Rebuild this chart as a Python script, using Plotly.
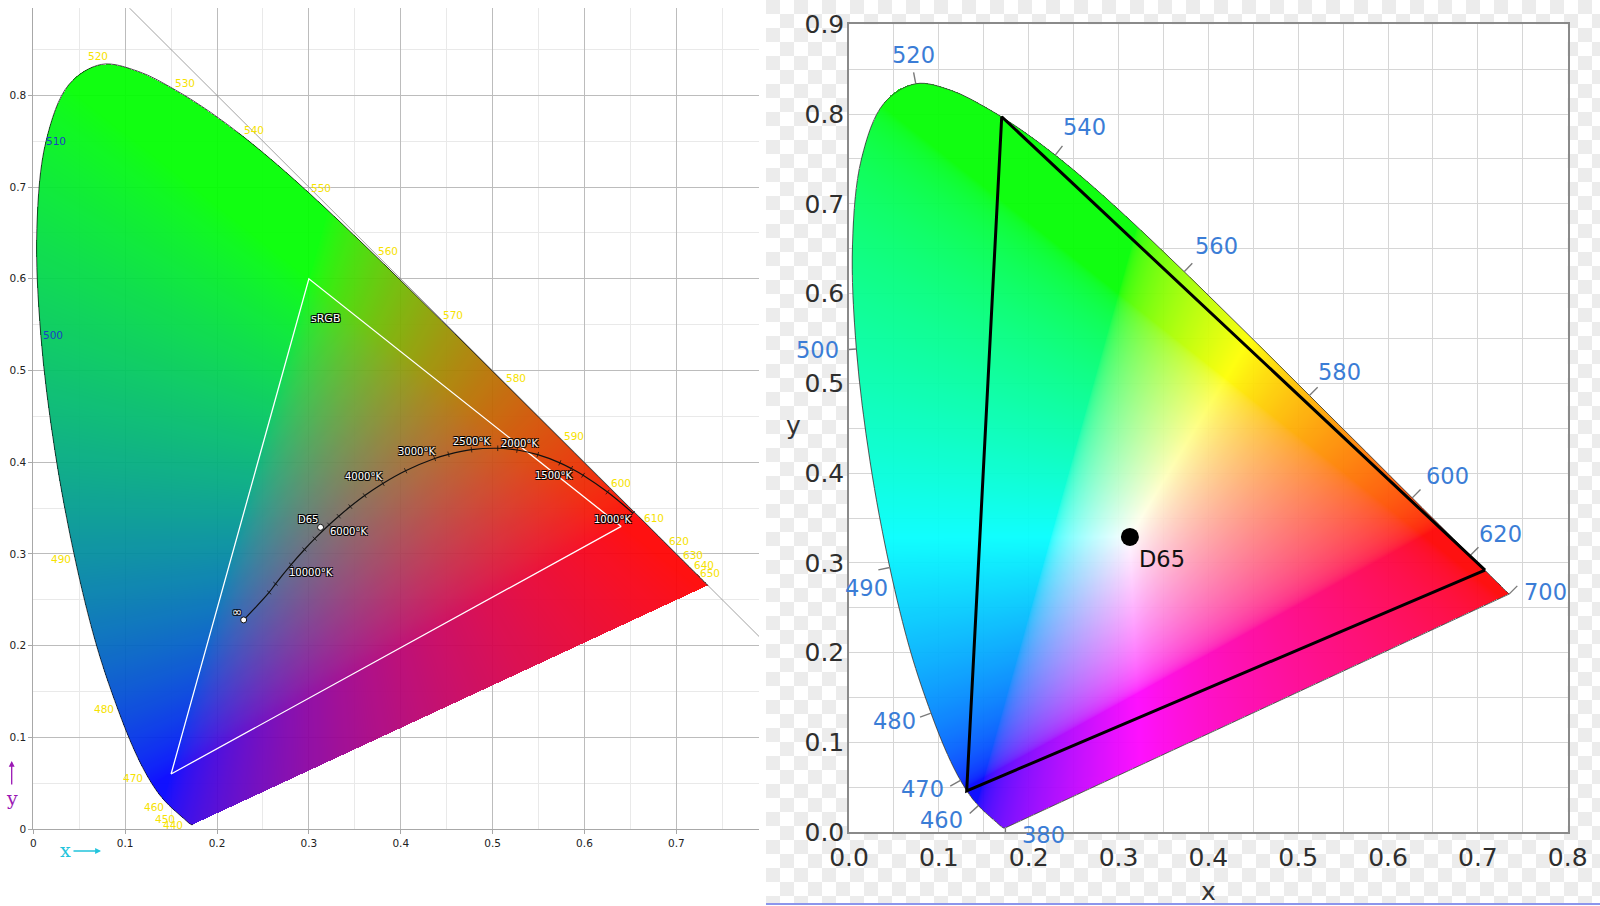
import base64
import struct
import zlib

import numpy as np
import plotly.graph_objects as go

# CIE 1931 2 deg spectral locus, 380..700 nm every 5 nm
wavelengths = list(range(380, 705, 5))
locus_x = [0.1741, 0.1740, 0.1738, 0.1736, 0.1733, 0.1730, 0.1726, 0.1721, 0.1714, 0.1703,
           0.1689, 0.1669, 0.1644, 0.1611, 0.1566, 0.1510, 0.1440, 0.1355, 0.1241, 0.1096,
           0.0913, 0.0687, 0.0454, 0.0235, 0.0082, 0.0039, 0.0139, 0.0389, 0.0743, 0.1142,
           0.1547, 0.1929, 0.2296, 0.2658, 0.3016, 0.3373, 0.3731, 0.4087, 0.4441, 0.4788,
           0.5125, 0.5448, 0.5752, 0.6029, 0.6270, 0.6482, 0.6658, 0.6801, 0.6915, 0.7006,
           0.7079, 0.7140, 0.7190, 0.7230, 0.7260, 0.7283, 0.7300, 0.7311, 0.7320, 0.7327,
           0.7334, 0.7340, 0.7344, 0.7346, 0.7347]
locus_y = [0.0050, 0.0050, 0.0049, 0.0049, 0.0048, 0.0048, 0.0048, 0.0048, 0.0051, 0.0058,
           0.0069, 0.0086, 0.0109, 0.0138, 0.0177, 0.0227, 0.0297, 0.0399, 0.0578, 0.0868,
           0.1327, 0.2007, 0.2950, 0.4127, 0.5384, 0.6548, 0.7502, 0.8120, 0.8338, 0.8262,
           0.8059, 0.7816, 0.7543, 0.7243, 0.6923, 0.6589, 0.6245, 0.5896, 0.5547, 0.5202,
           0.4866, 0.4544, 0.4242, 0.3965, 0.3725, 0.3514, 0.3340, 0.3197, 0.3083, 0.2993,
           0.2920, 0.2859, 0.2809, 0.2770, 0.2740, 0.2717, 0.2700, 0.2689, 0.2680, 0.2673,
           0.2666, 0.2660, 0.2656, 0.2654, 0.2653]

left_labels = [440, 450, 460, 470, 480, 490, 500, 510, 520, 530, 540, 550, 560,
               570, 580, 590, 600, 610, 620, 630, 640, 650]
right_labels = [380, 460, 470, 480, 490, 500, 520, 540, 560, 580, 600, 620, 700]

srgb_x = [0.64, 0.30, 0.15]
srgb_y = [0.33, 0.60, 0.06]
rec2020_x = [0.708, 0.170, 0.131]
rec2020_y = [0.292, 0.797, 0.046]

d65_x = 0.3127
d65_y = 0.3290

# Planckian locus (last point is infinity)
planck_t = [1000, 1200, 1400, 1500, 1600, 1800, 2000, 2200, 2500, 2800, 3000, 3500, 4000,
            4500, 5000, 5500, 6000, 7000, 8000, 10000, 15000, 20000, None]
planck_x = [0.6528, 0.6251, 0.5985, 0.5857, 0.5732, 0.5492, 0.5267, 0.5056, 0.4770, 0.4520,
            0.4369, 0.4053, 0.3805, 0.3608, 0.3451, 0.3325, 0.3221, 0.3064, 0.2952, 0.2807,
            0.2637, 0.2567, 0.2290]
planck_y = [0.3444, 0.3674, 0.3858, 0.3931, 0.3993, 0.4082, 0.4133, 0.4152, 0.4137, 0.4086,
            0.4041, 0.3907, 0.3768, 0.3636, 0.3516, 0.3411, 0.3318, 0.3166, 0.3048, 0.2884,
            0.2674, 0.2580, 0.2280]
planck_labels = [1000, 1500, 2000, 2500, 3000, 4000, 6000, 10000]

W, H = 1600, 906


def png_uri(rgba):
    h, w, _ = rgba.shape
    raw = b"".join(b"\x00" + rgba[i].tobytes() for i in range(h))

    def chunk(tag, data):
        return (struct.pack(">I", len(data)) + tag + data
                + struct.pack(">I", zlib.crc32(tag + data) & 0xFFFFFFFF))

    png = (b"\x89PNG\r\n\x1a\n"
           + chunk(b"IHDR", struct.pack(">IIBBBBB", w, h, 8, 6, 0, 0, 0))
           + chunk(b"IDAT", zlib.compress(raw, 9))
           + chunk(b"IEND", b""))
    return "data:image/png;base64," + base64.b64encode(png).decode()


def smooth_outline(n_sub=4):
    # catmull-rom pass through the locus points, used only for the fill edge
    px = np.array(locus_x)
    py = np.array(locus_y)
    n = len(px)
    ox, oy = [], []
    for i in range(n - 1):
        i0, i3 = max(i - 1, 0), min(i + 2, n - 1)
        for t in np.linspace(0, 1, n_sub, endpoint=False):
            t2, t3 = t * t, t * t * t
            for arr, out in ((px, ox), (py, oy)):
                p0, p1, p2, p3 = arr[i0], arr[i], arr[i + 1], arr[i3]
                out.append(0.5 * (2 * p1 + (p2 - p0) * t + (2 * p0 - 5 * p1 + 4 * p2 - p3) * t2
                                  + (3 * p1 - p0 - 3 * p2 + p3) * t3))
    ox.append(px[-1])
    oy.append(py[-1])
    return ox, oy


def inside_locus(gx, gy):
    sx, sy = smooth_outline()
    inside = np.zeros(gx.shape, bool)
    n = len(sx)
    for i in range(n):
        x1, y1 = sx[i], sy[i]
        x2, y2 = sx[(i + 1) % n], sy[(i + 1) % n]
        if y1 == y2:
            continue
        cond = (y1 > gy) != (y2 > gy)
        xint = x1 + (gy - y1) * (x2 - x1) / (y2 - y1)
        inside ^= cond & (gx < xint)
    return inside


def gamut_image(step, mode):
    nx = int(np.ceil(0.74 / step))
    ny = int(np.ceil(0.84 / step))
    gx, gy = np.meshgrid((np.arange(nx) + 0.5) * step, (np.arange(ny) + 0.5) * step)
    yy = np.maximum(gy, 1e-6)
    X = gx / yy
    Z = (1 - gx - gy) / yy
    r = 3.2406 * X - 1.5372 - 0.4986 * Z
    g = -0.9689 * X + 1.8758 + 0.0415 * Z
    b = 0.0557 * X - 0.2040 + 1.0570 * Z
    rgb = np.clip(np.stack([r, g, b], -1), 0, None)
    if mode == "max":
        rgb = rgb / np.maximum(rgb.max(-1, keepdims=True), 1e-9)
        rgb = np.where(rgb <= 0.0031308, 12.92 * rgb, 1.055 * rgb ** (1 / 2.4) - 0.055)
    else:
        rgb = rgb / np.maximum(rgb.sum(-1, keepdims=True), 1e-9)
        rgb = rgb ** 0.77
    rgba = np.zeros((ny, nx, 4), np.uint8)
    rgba[..., :3] = np.clip(rgb * 255, 0, 255).astype(np.uint8)
    rgba[..., 3] = np.where(inside_locus(gx, gy), 238, 0)
    return png_uri(rgba)


def checker_uri(w, h, size=14):
    jj, ii = np.meshgrid(np.arange(w), np.arange(h))
    v = np.where(((ii // size) + (jj // size)) % 2 == 0, 236, 255).astype(np.uint8)
    rgba = np.stack([v, v, v, np.full_like(v, 255)], -1)
    return png_uri(rgba)


def outward_normals(idx):
    out = []
    n = len(locus_x)
    for i in idx:
        a = max(i - 1, 0)
        b = min(i + 1, n - 1)
        tx = locus_x[b] - locus_x[a]
        ty = locus_y[b] - locus_y[a]
        nx_, ny_ = ty, -tx
        if nx_ * (locus_x[i] - 0.33) + ny_ * (locus_y[i] - 0.33) < 0:
            nx_, ny_ = -nx_, -ny_
        ln = (nx_ ** 2 + ny_ ** 2) ** 0.5
        out.append((nx_ / ln, ny_ / ln))
    return out


def paper_text(px, py, text, size, color, family="DejaVu Sans"):
    return dict(x=px / W, y=1 - py / H, xref="paper", yref="paper", text=text,
                showarrow=False, xanchor="center", yanchor="middle",
                font=dict(family=family, size=size, color=color))


def paper_arrow(px, py, ax, ay, color):
    return dict(x=px / W, y=1 - py / H, xref="paper", yref="paper", text="",
                showarrow=True, ax=ax, ay=ay, arrowhead=2, arrowsize=0.9,
                arrowwidth=1.3, arrowcolor=color)


fig = go.Figure()

# ---------------- left panel ----------------
LS = 919.0  # px per unit, left
fig.add_trace(go.Image(source=gamut_image(1 / LS, "sum"), x0=0.5 / LS, dx=1 / LS,
                       y0=0.5 / LS, dy=1 / LS, xaxis="x", yaxis="y", hoverinfo="skip"))

fig.add_trace(go.Scatter(x=[0.1, 0.8], y=[0.9, 0.2], mode="lines",
                         line=dict(color="#8a8a8a", width=0.8), xaxis="x", yaxis="y",
                         hoverinfo="skip", showlegend=False))
fig.add_trace(go.Scatter(x=locus_x, y=locus_y, mode="lines",
                         line=dict(color="#1a1a1a", width=0.8, shape="spline"),
                         xaxis="x", yaxis="y", hoverinfo="skip", showlegend=False))
fig.add_trace(go.Scatter(x=srgb_x + srgb_x[:1], y=srgb_y + srgb_y[:1], mode="lines",
                         line=dict(color="white", width=1.3), xaxis="x", yaxis="y",
                         hoverinfo="skip", showlegend=False))

angles = []
for i in range(len(planck_x)):
    a = max(i - 1, 0)
    b = min(i + 1, len(planck_x) - 1)
    angles.append(-np.degrees(np.arctan2(planck_y[b] - planck_y[a], planck_x[b] - planck_x[a])))
fig.add_trace(go.Scatter(x=planck_x, y=planck_y, mode="lines+markers",
                         line=dict(color="#111", width=1.2, shape="spline"),
                         marker=dict(symbol="line-ns", size=4, angle=angles,
                                     line=dict(color="#111", width=0.8)),
                         xaxis="x", yaxis="y", hoverinfo="skip", showlegend=False))
fig.add_trace(go.Scatter(x=[planck_x[-1], d65_x], y=[planck_y[-1], d65_y], mode="markers",
                         marker=dict(size=6, color="white", line=dict(color="#111", width=1)),
                         xaxis="x", yaxis="y", hoverinfo="skip", showlegend=False))

annotations = []
left_offsets = {440: (-11, -6), 450: (-12, -6), 460: (-12, -5), 470: (-14, -2),
                480: (-13, -2), 490: (-14, -1), 500: (12, 0), 510: (10, 0),
                520: (-4, 8), 530: (10, 7), 540: (10, 7), 550: (11, 6), 560: (12, 5),
                570: (12, 5), 580: (12, 5), 590: (12, 4), 600: (12, 4), 610: (9, 5),
                620: (10, 5), 630: (9, 6), 640: (10, 6), 650: (10, 5)}
for wl in left_labels:
    i = wavelengths.index(wl)
    dx, dy = left_offsets[wl]
    col = "#1c3fc4" if wl in (500, 510) else "#f6e200"
    annotations.append(dict(x=locus_x[i], y=locus_y[i], xref="x", yref="y", text=str(wl),
                            showarrow=False, xshift=dx, yshift=dy,
                            font=dict(family="DejaVu Sans", size=10.5, color=col)))

halo = "-1px -1px 0 #000, 1px -1px 0 #000, -1px 1px 0 #000, 1px 1px 0 #000"
temp_offsets = {1000: (-20, -6), 1500: (-18, -7), 2000: (2, 7), 2500: (0, 8),
                3000: (-18, 7), 4000: (-19, 7), 6000: (19, -7), 10000: (20, -8)}
for t in planck_labels:
    i = planck_t.index(t)
    dx, dy = temp_offsets[t]
    annotations.append(dict(x=planck_x[i], y=planck_y[i], xref="x", yref="y",
                            text=f"{t}°K", showarrow=False, xshift=dx, yshift=dy,
                            font=dict(family="DejaVu Sans", size=10, color="white", shadow=halo)))
annotations.append(dict(x=planck_x[-1], y=planck_y[-1], xref="x", yref="y", text="∞",
                        showarrow=False, xshift=-7, yshift=8,
                        font=dict(family="DejaVu Sans", size=12, color="white", shadow=halo)))
annotations.append(dict(x=d65_x, y=d65_y, xref="x", yref="y", text="D65",
                        showarrow=False, xshift=-13, yshift=8,
                        font=dict(family="DejaVu Sans", size=10, color="white", shadow=halo)))
annotations.append(dict(x=srgb_x[1], y=srgb_y[1], xref="x", yref="y", text="sRGB",
                        showarrow=False, xshift=17, yshift=-40,
                        font=dict(family="DejaVu Sans", size=11, color="white", shadow=halo)))

# axis direction markers
annotations.append(paper_text(65.7, 850, "x", 19, "#22c4dc", "DejaVu Serif"))
annotations.append(paper_arrow(101, 851, -29, 0, "#22c4dc"))
annotations.append(paper_text(11.7, 798, "y", 19, "#9a18b4", "DejaVu Serif"))
annotations.append(paper_arrow(11.7, 761, 0, 25, "#9a18b4"))

# ---------------- right panel ----------------
RS = 898.0
fig.add_trace(go.Image(source=gamut_image(1 / RS, "max"), x0=0.5 / RS, dx=1 / RS,
                       y0=0.5 / RS, dy=1 / RS, xaxis="x2", yaxis="y2", hoverinfo="skip"))
fig.add_trace(go.Scatter(x=locus_x, y=locus_y, mode="lines",
                         line=dict(color="#444", width=0.9, shape="spline"),
                         xaxis="x2", yaxis="y2", hoverinfo="skip", showlegend=False))
fig.add_trace(go.Scatter(x=[locus_x[-1], locus_x[0]], y=[locus_y[-1], locus_y[0]], mode="lines",
                         line=dict(color="#444", width=0.9), xaxis="x2", yaxis="y2",
                         hoverinfo="skip", showlegend=False))

tick_x, tick_y = [], []
idx = [wavelengths.index(wl) for wl in right_labels]
for i, (nx_, ny_) in zip(idx, outward_normals(idx)):
    tick_x += [locus_x[i], locus_x[i] + 0.013 * nx_, None]
    tick_y += [locus_y[i], locus_y[i] + 0.013 * ny_, None]
fig.add_trace(go.Scatter(x=tick_x, y=tick_y, mode="lines", line=dict(color="#7a7a7a", width=1.4),
                         xaxis="x2", yaxis="y2", hoverinfo="skip", showlegend=False))

fig.add_trace(go.Scatter(x=rec2020_x + rec2020_x[:1], y=rec2020_y + rec2020_y[:1], mode="lines",
                         line=dict(color="black", width=3), xaxis="x2", yaxis="y2",
                         hoverinfo="skip", showlegend=False))
fig.add_trace(go.Scatter(x=[d65_x], y=[d65_y], mode="markers",
                         marker=dict(size=18, color="black"), xaxis="x2", yaxis="y2",
                         hoverinfo="skip", showlegend=False))

right_offsets = {380: (38, -7), 460: (-37, -14), 470: (-38, -9), 480: (-37, -8),
                 490: (-23, -21), 500: (-39, -1), 520: (-2, 29), 540: (29, 28),
                 560: (32, 26), 580: (30, 23), 600: (35, 22), 620: (30, 22), 700: (36, 2)}
for wl in right_labels:
    i = wavelengths.index(wl)
    dx, dy = right_offsets[wl]
    annotations.append(dict(x=locus_x[i], y=locus_y[i], xref="x2", yref="y2", text=str(wl),
                            showarrow=False, xshift=dx, yshift=dy,
                            font=dict(family="DejaVu Sans", size=22.5, color="#3b7dd6")))
annotations.append(dict(x=d65_x, y=d65_y, xref="x2", yref="y2", text="D65", showarrow=False,
                        xshift=32, yshift=-22,
                        font=dict(family="DejaVu Sans", size=22.5, color="#111")))
annotations.append(paper_text(1208, 891, "x", 25, "#333"))
annotations.append(paper_text(793, 425, "y", 25, "#333"))

left_axis = dict(showgrid=True, gridcolor="#bcbcbc", gridwidth=1, dtick=0.1,
                 minor=dict(dtick=0.05, showgrid=True, gridcolor="#e9e9e9"),
                 showline=True, linecolor="#a8a8a8", linewidth=1, ticks="outside", ticklen=4,
                 tickcolor="#a8a8a8", zeroline=False, automargin=False,
                 tickfont=dict(family="DejaVu Sans", size=10.5, color="#222"))
right_axis = dict(showgrid=True, gridcolor="#d6d6d6", gridwidth=1, dtick=0.1, tickformat=".1f",
                  minor=dict(dtick=0.05, showgrid=True, gridcolor="#d6d6d6"),
                  showline=True, mirror=True, linecolor="#8a8a8a", linewidth=1.5,
                  ticks="", zeroline=False, automargin=False,
                  tickfont=dict(family="DejaVu Sans", size=25, color="#2e2e2e"))

fig.update_layout(
    width=W, height=H,
    margin=dict(l=0, r=0, t=0, b=0),
    paper_bgcolor="white", plot_bgcolor="white",
    showlegend=False,
    xaxis=dict(left_axis, domain=[33.3 / W, 759 / W], range=[0, 0.79], anchor="y"),
    yaxis=dict(left_axis, domain=[(H - 829) / H, (H - 8.3) / H], range=[0, 0.895],
               anchor="x", scaleanchor=False),
    xaxis2=dict(right_axis, domain=[849 / W, 1567.7 / W], range=[0, 0.8], anchor="y2",
                ticklabelstandoff=2),
    yaxis2=dict(right_axis, domain=[(H - 832.3) / H, (H - 24.3) / H], range=[0, 0.9],
                anchor="x2", scaleanchor=False, ticklabelstandoff=-2),
    annotations=annotations,
    images=[dict(source=checker_uri(834, 903), xref="paper", yref="paper", x=766 / W, y=1,
                 sizex=834 / W, sizey=903 / H, sizing="stretch", layer="below",
                 xanchor="left", yanchor="top")],
    shapes=[
        dict(type="rect", xref="x2 domain", yref="y2 domain", x0=0, x1=1, y0=0, y1=1,
             fillcolor="white", line=dict(width=0), layer="below"),
        dict(type="line", xref="paper", yref="paper", x0=766 / W, x1=1, y0=2 / H, y1=2 / H,
             line=dict(color="#8c96ec", width=2)),
    ],
)

# the page body has a default 8px margin; drop it so the figure fills the window
fig.write_html("out.html", config={"displayModeBar": False},
               post_script="document.body.style.margin = '0';")
